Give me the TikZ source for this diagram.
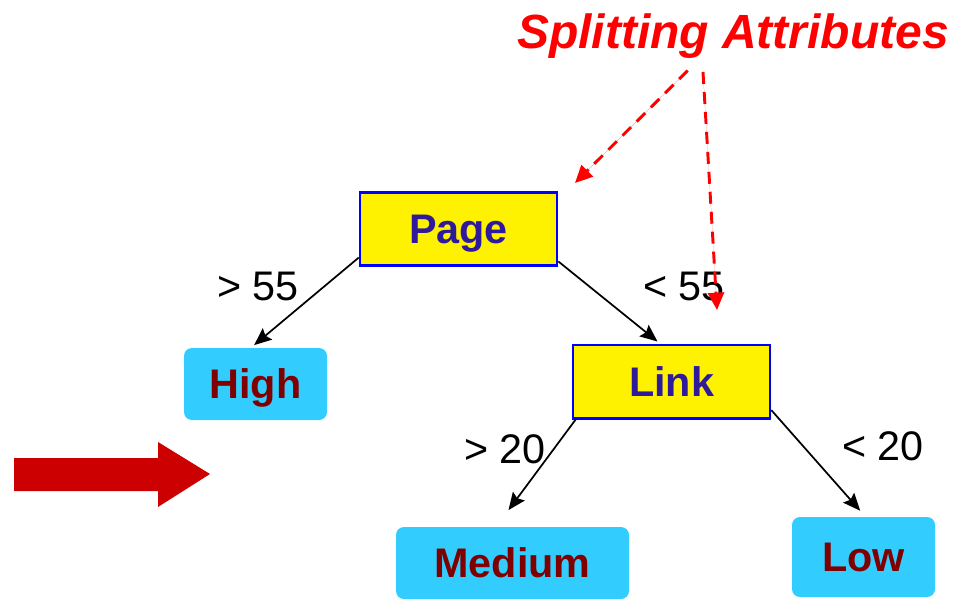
\documentclass[tikz,border=0pt]{standalone}
\usepackage{fontspec}
\setmainfont{Liberation Sans}
\usetikzlibrary{arrows.meta}
\definecolor{boxblue}{HTML}{0000FF}
\definecolor{attrtext}{HTML}{2E1A9A}
\definecolor{leafblue}{HTML}{33CCFF}
\definecolor{leaftext}{HTML}{800000}
\definecolor{bigred}{HTML}{CC0000}
\definecolor{titlered}{HTML}{FF0000}
\tikzset{
  attrbox/.style={draw=boxblue, line width=2pt, fill=yellow, text=attrtext,
    font=\fontsize{31}{35}\selectfont\bfseries, inner sep=0pt,
    text height=22pt, text depth=0pt,
    minimum width=147.75pt, minimum height=55pt},
  leafbox/.style={fill=leafblue, rounded corners=6pt, text=leaftext,
    font=\fontsize{31}{35}\selectfont\bfseries, inner sep=0pt,
    text height=22pt, text depth=0pt},
  edgelabel/.style={font=\fontsize{31}{35}\selectfont, inner sep=0pt},
  treeedge/.style={line width=1.3pt, -{Stealth[length=13pt,width=11pt,inset=2pt]}},
  attredge/.style={draw=titlered, line width=2.2pt, dash pattern=on 9pt off 6pt,
    -{Triangle[length=13pt,width=12pt]}, fill=titlered},
}
\begin{document}
\begin{tikzpicture}[x=0.75pt,y=-0.75pt]
\useasboundingbox (0,0) rectangle (966,599);
% nodes
\node[attrbox] (page) at (458.5,229) {Page};
\node[attrbox] (link) at (671.5,381.5) {Link};
\node[leafbox, minimum width=107.25pt, minimum height=54pt] (high) at (255.5,384) {High};
\node[leafbox, minimum width=174.75pt, minimum height=54pt] (medium) at (512.5,563) {Medium};
\node[leafbox, minimum width=107.25pt, minimum height=60pt] (low) at (863.5,557) {Low};
\node[font=\fontsize{36}{40}\selectfont\bfseries\itshape, text=titlered, inner sep=0pt] (title) at (733,36) {Splitting Attributes};
% edge labels
\node[edgelabel] (l55a) at (258,286) {> 55};
\node[edgelabel] (l55b) at (684,286) {< 55};
\node[edgelabel] (l20a) at (505,449) {> 20};
\node[edgelabel] (l20b) at (883,446) {< 20};
% tree connectors
\draw[treeedge] (page.196) -- ([xshift=-1pt,yshift=2pt]high.north);
\draw[treeedge] (page.-18.5) -- ([xshift=-10.5pt,yshift=1.5pt]link.north);
\draw[treeedge] ([xshift=3pt]link.south west) -- ([xshift=-3pt,yshift=12.5pt]medium.north);
\draw[treeedge] (link.-16) -- ([xshift=-2.5pt,yshift=4.5pt]low.north);
% splitting attribute pointers
\coordinate (tgtpage) at (575,183);
\coordinate (tgtlink) at (717,310);
\draw[attredge] ([xshift=-34pt,yshift=-9pt]title.south) -- (tgtpage);
\draw[attredge] ([xshift=-22.5pt,yshift=-10pt]title.south) -- (tgtlink);
% big red arrow
\fill[bigred] (14,458) -- (158,458) -- (158,442) -- (210,474) -- (158,507) -- (158,491) -- (14,491) -- cycle;
\end{tikzpicture}
\end{document}
